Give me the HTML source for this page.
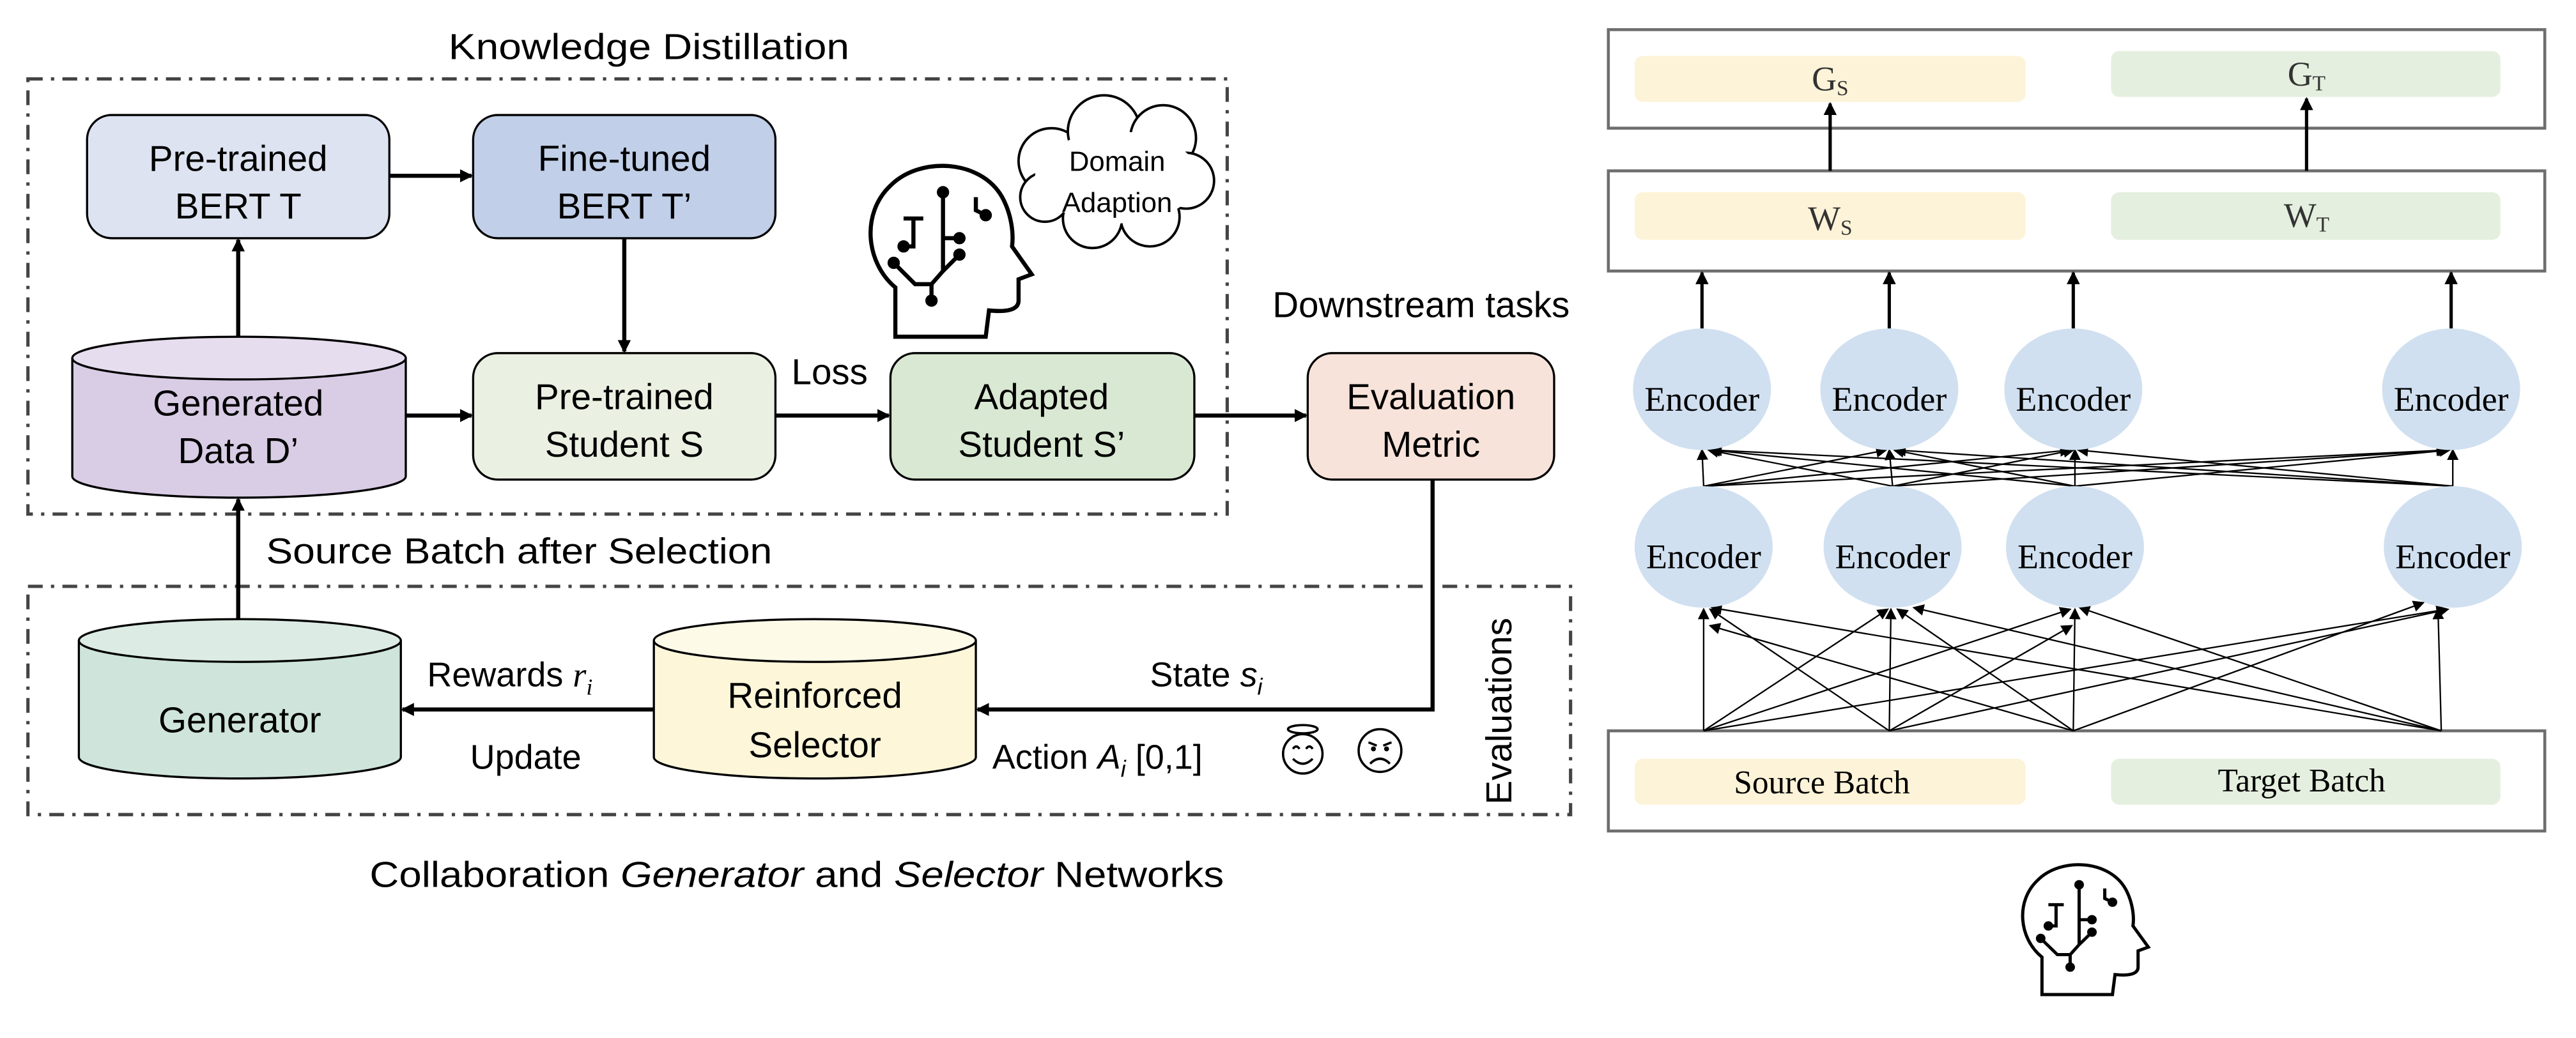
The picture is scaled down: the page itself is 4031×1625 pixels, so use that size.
<!DOCTYPE html>
<html><head><meta charset="utf-8"><style>html,body{margin:0;padding:0;background:#fff}svg{display:block}</style></head><body>
<svg width="4031" height="1625" viewBox="0 0 1568 632" xmlns="http://www.w3.org/2000/svg">
<defs>
<marker id="a" markerWidth="8" markerHeight="8" refX="7" refY="4" orient="auto" markerUnits="userSpaceOnUse"><path d="M0,0 L8,4 L0,8 Z" fill="#000"/></marker>
<marker id="s" markerWidth="7" markerHeight="7" refX="6" refY="3.5" orient="auto" markerUnits="userSpaceOnUse"><path d="M0,0 L7,3.5 L0,7 Z" fill="#000"/></marker>
<g id="brain" fill="none" stroke="#000" stroke-width="2.5">
<path d="M23 110 L23 80 C5 65 2 35 20 18 C38 0 75 2 88 25 C94 36 95 48 94 55 L106 72 L98 75 L98 88 C98 94 90 95 80 94 L78 110 Z"/>
<path d="M28 38 L40 38 M34 38 L34 55 L28 55 M52 22 L52 50 L62 50 M52 50 L52 70 L45 78 M62 60 L52 70 M22 65 L35 78 L45 78 M72 25 L72 33 L78 36"/>
<circle cx="28" cy="55" r="2.5" fill="#000"/><circle cx="62" cy="50" r="2.5" fill="#000"/><circle cx="62" cy="60" r="2.5" fill="#000"/><circle cx="22" cy="65" r="2.5" fill="#000"/><circle cx="45" cy="88" r="2.5" fill="#000"/><circle cx="78" cy="36" r="2.5" fill="#000"/><circle cx="52" cy="22" r="2.5" fill="#000"/>
<path d="M45 78 L45 88"/>
</g>
</defs>
<g font-family="Liberation Sans, sans-serif" fill="#000">
<text x="395" y="36" font-size="22" text-anchor="middle" textLength="244" lengthAdjust="spacingAndGlyphs">Knowledge Distillation</text>
<rect x="17" y="48" width="730" height="265" fill="none" stroke="#444" stroke-width="2" stroke-dasharray="9 5 2 5"/>
<rect x="17" y="357" width="939" height="139" fill="none" stroke="#444" stroke-width="2" stroke-dasharray="9 5 2 5"/>

<g font-size="22" text-anchor="middle">
<rect x="53" y="70" width="184" height="75" rx="15" fill="#dde3f1" stroke="#000" stroke-width="1.3"/>
<text x="145" y="104">Pre-trained</text><text x="145" y="133">BERT T</text>
<rect x="288" y="70" width="184" height="75" rx="15" fill="#c1cfe8" stroke="#000" stroke-width="1.3"/>
<text x="380" y="104">Fine-tuned</text><text x="380" y="133">BERT T’</text>

<rect x="44" y="218" width="203" height="72" fill="#d9cce5" stroke="none"/>
<path d="M44 218 L44 290 A101.5 13 0 0 0 247 290 L247 218" fill="#d9cce5" stroke="#000" stroke-width="1.3"/>
<ellipse cx="145.5" cy="218" rx="101.5" ry="13" fill="#e6ddef" stroke="#000" stroke-width="1.3"/>
<text x="145" y="253">Generated</text><text x="145" y="282">Data D’</text>

<rect x="288" y="215" width="184" height="77" rx="15" fill="#eaf1e2" stroke="#000" stroke-width="1.3"/>
<text x="380" y="249">Pre-trained</text><text x="380" y="278">Student S</text>
<rect x="542" y="215" width="185" height="77" rx="15" fill="#d9e8d2" stroke="#000" stroke-width="1.3"/>
<text x="634" y="249">Adapted</text><text x="634" y="278">Student S’</text>
<rect x="796" y="215" width="150" height="77" rx="15" fill="#f8e3da" stroke="#000" stroke-width="1.3"/>
<text x="871" y="249">Evaluation</text><text x="871" y="278">Metric</text>
<text x="505" y="234">Loss</text>
<text x="865" y="193">Downstream tasks</text>
</g>

<g stroke="#000" stroke-width="2.5" fill="none">
<line x1="237" y1="107" x2="287" y2="107" marker-end="url(#a)"/>
<line x1="145" y1="205" x2="145" y2="146" marker-end="url(#a)"/>
<line x1="380" y1="145" x2="380" y2="214" marker-end="url(#a)"/>
<line x1="247" y1="253" x2="287" y2="253" marker-end="url(#a)"/>
<line x1="472" y1="253" x2="541" y2="253" marker-end="url(#a)"/>
<line x1="727" y1="253" x2="795" y2="253" marker-end="url(#a)"/>
<line x1="145" y1="377" x2="145" y2="304" marker-end="url(#a)"/>
<polyline points="872,292 872,432 595,432" marker-end="url(#a)"/>
<line x1="398" y1="432" x2="245" y2="432" marker-end="url(#a)"/>
</g>

<g transform="translate(522,95)"><use href="#brain"/></g>
<g fill="#fff" stroke="#000" stroke-width="1.5">
<circle cx="640" cy="98" r="20"/><circle cx="672" cy="80" r="22"/><circle cx="708" cy="84" r="20"/><circle cx="722" cy="110" r="17"/><circle cx="700" cy="132" r="18"/><circle cx="665" cy="133" r="18"/><circle cx="636" cy="120" r="15"/>
</g>
<ellipse cx="680" cy="108" rx="50" ry="28" fill="#fff"/>
<text x="680" y="104" font-size="17" text-anchor="middle">Domain</text><text x="680" y="129" font-size="17" text-anchor="middle">Adaption</text>

<text x="316" y="343" font-size="22" text-anchor="middle" textLength="308" lengthAdjust="spacingAndGlyphs">Source Batch after Selection</text>

<path d="M48 390 L48 461 A98 13 0 0 0 244 461 L244 390" fill="#cfe5dc" stroke="#000" stroke-width="1.3"/>
<ellipse cx="146" cy="390" rx="98" ry="13" fill="#dcece5" stroke="#000" stroke-width="1.3"/>
<text x="146" y="446" font-size="22" text-anchor="middle">Generator</text>
<path d="M398 390 L398 461 A98 13 0 0 0 594 461 L594 390" fill="#fdf6d9" stroke="#000" stroke-width="1.3"/>
<ellipse cx="496" cy="390" rx="98" ry="13" fill="#fefae8" stroke="#000" stroke-width="1.3"/>
<text x="496" y="431" font-size="22" text-anchor="middle">Reinforced</text><text x="496" y="461" font-size="22" text-anchor="middle">Selector</text>

<text x="260" y="418" font-size="21">Rewards <tspan font-family="Liberation Serif, serif" font-style="italic">r</tspan><tspan font-family="Liberation Serif, serif" font-style="italic" font-size="14" dy="5">i</tspan></text>
<text x="320" y="468" font-size="21" text-anchor="middle">Update</text>
<text x="700" y="418" font-size="21">State <tspan font-style="italic">s</tspan><tspan font-style="italic" font-size="14" dy="5">i</tspan></text>
<text x="604" y="468" font-size="21">Action <tspan font-style="italic">A</tspan><tspan font-style="italic" font-size="14" dy="5">i</tspan><tspan dy="-5"> [0,1]</tspan></text>
<g fill="none" stroke="#000" stroke-width="1.4">
<circle cx="793" cy="459" r="12"/><ellipse cx="793" cy="444" rx="9" ry="2.5"/><path d="M787 456 q2 -3 4 0 M795 456 q2 -3 4 0 M787 462 q6 6 12 0"/>
<circle cx="840" cy="457" r="13"/><path d="M833 452 l5 2 M847 452 l-5 2 M834 465 q6 -6 12 0"/>
</g>
<circle cx="836" cy="456" r="1.5"/><circle cx="844" cy="456" r="1.5"/>
<text transform="translate(920,433) rotate(-90)" font-size="22" text-anchor="middle">Evaluations</text>
<text x="485" y="540" font-size="22" text-anchor="middle" textLength="520" lengthAdjust="spacingAndGlyphs">Collaboration <tspan font-style="italic">Generator</tspan> and <tspan font-style="italic">Selector</tspan> Networks</text>
</g>

<g font-family="Liberation Serif, serif" fill="#000">
<rect x="979" y="18" width="570" height="60" fill="none" stroke="#6e6e6e" stroke-width="1.8"/>
<rect x="995" y="34" width="238" height="28" rx="5" fill="#fdf3d8"/>
<rect x="1285" y="31" width="237" height="28" rx="5" fill="#e5efdf"/>
<text x="1114" y="55" font-size="21" text-anchor="middle" fill="#333">G<tspan font-size="13" dy="3">S</tspan></text>
<text x="1404" y="52" font-size="21" text-anchor="middle" fill="#333">G<tspan font-size="13" dy="3">T</tspan></text>
<rect x="979" y="104" width="570" height="61" fill="none" stroke="#6e6e6e" stroke-width="1.8"/>
<rect x="995" y="117" width="238" height="29" rx="5" fill="#fdf3d8"/>
<rect x="1285" y="117" width="237" height="29" rx="5" fill="#e5efdf"/>
<text x="1114" y="140" font-size="21" text-anchor="middle" fill="#333">W<tspan font-size="13" dy="3">S</tspan></text>
<text x="1404" y="138" font-size="21" text-anchor="middle" fill="#333">W<tspan font-size="13" dy="3">T</tspan></text>
<rect x="979" y="445" width="570" height="61" fill="none" stroke="#6e6e6e" stroke-width="1.8"/>
<rect x="995" y="462" width="238" height="28" rx="5" fill="#fdf3d8"/>
<rect x="1285" y="462" width="237" height="28" rx="5" fill="#e5efdf"/>
<text x="1109" y="483" font-size="20" text-anchor="middle">Source Batch</text>
<text x="1401" y="482" font-size="20" text-anchor="middle">Target Batch</text>

<g stroke="#000" stroke-width="2" fill="none">
<line x1="1114" y1="104" x2="1114" y2="63" marker-end="url(#a)"/>
<line x1="1404" y1="104" x2="1404" y2="60" marker-end="url(#a)"/>
<line x1="1036" y1="200" x2="1036" y2="166" marker-end="url(#a)"/>
<line x1="1150" y1="200" x2="1150" y2="166" marker-end="url(#a)"/>
<line x1="1262" y1="200" x2="1262" y2="166" marker-end="url(#a)"/>
<line x1="1492" y1="200" x2="1492" y2="166" marker-end="url(#a)"/>
</g>
<g stroke="#000" stroke-width="0.9" fill="none">
<line x1="1037" y1="296" x2="1036" y2="274" marker-end="url(#s)"/><line x1="1037" y1="296" x2="1148" y2="274" marker-end="url(#s)"/><line x1="1037" y1="296" x2="1260" y2="274" marker-end="url(#s)"/><line x1="1037" y1="296" x2="1489" y2="274" marker-end="url(#s)"/>
<line x1="1152" y1="296" x2="1040" y2="274" marker-end="url(#s)"/><line x1="1152" y1="296" x2="1150" y2="274" marker-end="url(#s)"/><line x1="1152" y1="296" x2="1262" y2="274" marker-end="url(#s)"/><line x1="1152" y1="296" x2="1490" y2="274" marker-end="url(#s)"/>
<line x1="1263" y1="296" x2="1041" y2="274" marker-end="url(#s)"/><line x1="1263" y1="296" x2="1153" y2="274" marker-end="url(#s)"/><line x1="1263" y1="296" x2="1263" y2="274" marker-end="url(#s)"/><line x1="1263" y1="296" x2="1491" y2="274" marker-end="url(#s)"/>
<line x1="1493" y1="296" x2="1042" y2="274" marker-end="url(#s)"/><line x1="1493" y1="296" x2="1154" y2="274" marker-end="url(#s)"/><line x1="1493" y1="296" x2="1265" y2="274" marker-end="url(#s)"/><line x1="1493" y1="296" x2="1493" y2="274" marker-end="url(#s)"/>
<line x1="1037" y1="445" x2="1037" y2="371" marker-end="url(#s)"/><line x1="1037" y1="445" x2="1149" y2="371" marker-end="url(#s)"/><line x1="1037" y1="445" x2="1260" y2="371" marker-end="url(#s)"/><line x1="1037" y1="445" x2="1489" y2="371" marker-end="url(#s)"/>
<line x1="1150" y1="445" x2="1041" y2="371" marker-end="url(#s)"/><line x1="1150" y1="445" x2="1151" y2="371" marker-end="url(#s)"/><line x1="1150" y1="445" x2="1261" y2="381" marker-end="url(#s)"/><line x1="1150" y1="445" x2="1490" y2="371" marker-end="url(#s)"/>
<line x1="1262" y1="445" x2="1041" y2="381" marker-end="url(#s)"/><line x1="1262" y1="445" x2="1155" y2="371" marker-end="url(#s)"/><line x1="1262" y1="445" x2="1263" y2="371" marker-end="url(#s)"/><line x1="1262" y1="445" x2="1475" y2="367" marker-end="url(#s)"/>
<line x1="1486" y1="445" x2="1042" y2="370" marker-end="url(#s)"/><line x1="1486" y1="445" x2="1165" y2="370" marker-end="url(#s)"/><line x1="1486" y1="445" x2="1266" y2="370" marker-end="url(#s)"/><line x1="1486" y1="445" x2="1484" y2="371" marker-end="url(#s)"/>
</g>
<g fill="#d0e0f0">
<ellipse cx="1036" cy="237" rx="42" ry="37"/><ellipse cx="1150" cy="237" rx="42" ry="37"/><ellipse cx="1262" cy="237" rx="42" ry="37"/><ellipse cx="1492" cy="237" rx="42" ry="37"/>
<ellipse cx="1037" cy="333" rx="42" ry="37"/><ellipse cx="1152" cy="333" rx="42" ry="37"/><ellipse cx="1263" cy="333" rx="42" ry="37"/><ellipse cx="1493" cy="333" rx="42" ry="37"/>
</g>
<g font-size="21" text-anchor="middle">
<text x="1036" y="250">Encoder</text><text x="1150" y="250">Encoder</text><text x="1262" y="250">Encoder</text><text x="1492" y="250">Encoder</text>
<text x="1037" y="346">Encoder</text><text x="1152" y="346">Encoder</text><text x="1263" y="346">Encoder</text><text x="1493" y="346">Encoder</text>
</g>
</g>
<g transform="translate(1225,522) scale(0.78,0.76)"><use href="#brain"/></g>
</svg>
</body></html>
